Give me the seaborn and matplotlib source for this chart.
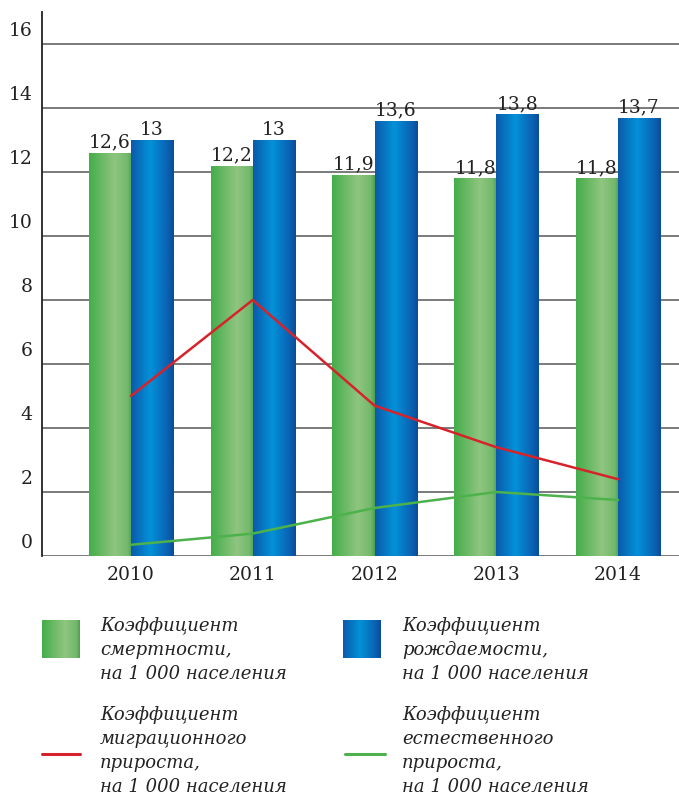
import numpy as np
import pandas as pd
import matplotlib
matplotlib.use("Agg")
import matplotlib.pyplot as plt
import matplotlib.transforms as mtransforms
from matplotlib.colors import LinearSegmentedColormap
import seaborn as sns

# ---- data ----
years = ["2010", "2011", "2012", "2013", "2014"]
death_rate = [12.6, 12.2, 11.9, 11.8, 11.8]
birth_rate = [13.0, 13.0, 13.6, 13.8, 13.7]
migration_rate = [5.0, 8.0, 4.7, 3.4, 2.4]
natural_rate = [0.35, 0.7, 1.5, 2.0, 1.75]
y_ticks = [0, 2, 4, 6, 8, 10, 12, 14, 16]

lbl_death = "Коэффициент\nсмертности,\nна 1 000 населения"
lbl_birth = "Коэффициент\nрождаемости,\nна 1 000 населения"
lbl_migr = "Коэффициент\nмиграционного\nприроста,\nна 1 000 населения"
lbl_nat = "Коэффициент\nестественного\nприроста,\nна 1 000 населения"

sns.set_theme(style="white")
plt.rcParams["font.family"] = ["DejaVu Serif", "DejaVu Sans"]

W, H = 679, 796
fig = plt.figure(figsize=(W / 100, H / 100), dpi=100)
ax = fig.add_axes([42 / W, 1 - 556 / H, (W - 42) / W, (556 - 12) / H])

df = pd.DataFrame({"year": years * 2,
                   "value": death_rate + birth_rate,
                   "kind": ["death"] * 5 + ["birth"] * 5})
sns.barplot(data=df, x="year", y="value", hue="kind", hue_order=["death", "birth"],
            palette={"death": "#6dbb65", "birth": "#0582cc"}, width=0.69,
            legend=False, ax=ax, zorder=2, linewidth=0)

green_cmap = LinearSegmentedColormap.from_list(
    "g", [(0, "#44ad4a"), (0.6, "#8fc580"), (0.9, "#73b96c"), (1, "#4e9f50")])
blue_cmap = LinearSegmentedColormap.from_list(
    "b", [(0, "#0b5aab"), (0.45, "#0391d8"), (0.85, "#0a62b2"), (1, "#0a4c98")])

grad = np.linspace(0, 1, 256).reshape(1, -1)
for cont, cmap in zip(ax.containers, [green_cmap, blue_cmap]):
    for p in cont:
        x0, y0 = p.get_x(), p.get_y()
        w, h = p.get_width(), p.get_height()
        im = ax.imshow(grad, cmap=cmap, aspect="auto",
                       extent=[x0, x0 + w, y0, y0 + h], zorder=2.5)
        im.set_clip_path(p)

fmt = lambda v: f"{v:g}".replace(".", ",")
ax.bar_label(ax.containers[0], labels=[fmt(v) for v in death_rate],
             padding=1, fontsize=13.5, color="#222222")
ax.bar_label(ax.containers[1], labels=[fmt(v) for v in birth_rate],
             padding=1, fontsize=13.5, color="#222222")

xpos = np.arange(len(years))
sns.lineplot(x=xpos, y=migration_rate, color="#d6232b", linewidth=1.8, ax=ax, zorder=4)
sns.lineplot(x=xpos, y=natural_rate, color="#4db24b", linewidth=1.8, ax=ax, zorder=4)

ax.set_xlim(-0.73, 4.5)
ax.set_ylim(0, 17)
ax.set_yticks(y_ticks)
ax.set_yticklabels([str(t) for t in y_ticks])
ax.set_xticks(xpos)
ax.set_xticklabels(years)
ax.set_xlabel("")
ax.set_ylabel("")
ax.tick_params(axis="both", length=0, labelsize=13.5, colors="#222222")
ax.tick_params(axis="y", pad=7)
ax.tick_params(axis="x", pad=7)
offset = mtransforms.ScaledTranslation(0, 10.5 / 72, fig.dpi_scale_trans)
for lab in ax.get_yticklabels():
    lab.set_transform(lab.get_transform() + offset)

ax.grid(False)
for t in y_ticks:
    ax.axhline(t, color="#707070", linewidth=1.3, zorder=1)
for s in ["top", "right", "bottom"]:
    ax.spines[s].set_visible(False)
ax.spines["left"].set_color("#222222")
ax.spines["left"].set_linewidth(1.3)

# ---- legend ----
def fx(px):
    return px / W

def fy(py):
    return 1 - py / H

gax = fig.add_axes([fx(42), fy(658), fx(38), 38 / H])
gax.imshow(grad, cmap=green_cmap, aspect="auto")
gax.axis("off")
bax = fig.add_axes([fx(343), fy(658), fx(38), 38 / H])
bax.imshow(grad, cmap=blue_cmap, aspect="auto")
bax.axis("off")

fig.add_artist(plt.Line2D([fx(42), fx(80)], [fy(754), fy(754)],
                          color="#d6232b", linewidth=2.2, transform=fig.transFigure))
fig.add_artist(plt.Line2D([fx(345), fx(385)], [fy(754), fy(754)],
                          color="#4db24b", linewidth=2.2, transform=fig.transFigure))

tkw = dict(fontsize=13, style="italic", color="#222222", va="top", ha="left",
           linespacing=1.42, transform=fig.transFigure)
fig.text(fx(100), fy(617), lbl_death, **tkw)
fig.text(fx(402), fy(617), lbl_birth, **tkw)
fig.text(fx(100), fy(706), lbl_migr, **tkw)
fig.text(fx(402), fy(706), lbl_nat, **tkw)

fig.savefig("out.png", dpi=100)
